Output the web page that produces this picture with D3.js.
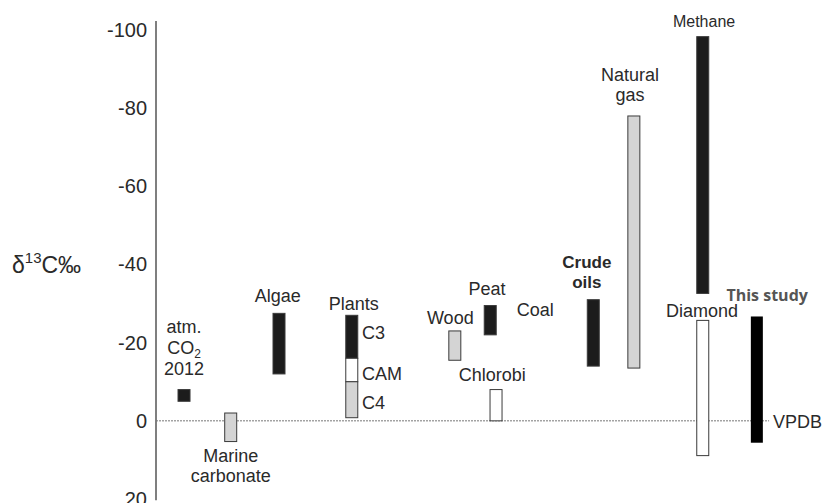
<!DOCTYPE html>
<html>
<head>
<meta charset="utf-8">
<script src="https://cdn.jsdelivr.net/npm/d3@7"></script>
<style>
  body { margin: 0; background: #fff; }
  svg text { font-family: 'Liberation Sans', Arial, Helvetica, sans-serif; fill: #2a2a2a; }
</style>
</head>
<body>
<div id='chart'></div>

<script>
  // ranges of d13C, per source (low = most negative end)
  var sources = ['atm. CO2 2012', 'Marine carbonate', 'Algae', 'Plants C3', 'Plants CAM', 'Plants C4',
                 'Wood', 'Peat', 'Chlorobi', 'Crude oils', 'Natural gas', 'Methane', 'Diamond', 'This study']
  var column  = [4.35, 11.6, 19.1, 30.4, 30.4, 30.4, 46.4, 51.9, 52.8, 67.9, 74.2, 84.9, 84.9, 93.3]
  var lowVal  = [-8, -2, -27.5, -27, -16, -10, -23, -29.5, -8, -31, -78, -98.3, -25.7, -26.7]
  var highVal = [-5, 5.3, -12, -16, -10, -0.8, -15.5, -22, 0, -14, -13.5, -32.6, 8.9, 5.6]
  var kind    = ['dark', 'gray', 'dark', 'dark', 'open', 'gray', 'gray', 'dark', 'open', 'dark', 'gray', 'dark', 'open', 'black']

  var yTicks = [-100, -80, -60, -40, -20, 0, 20]

  // text labels: lines, column, value of first baseline
  var labelLines = [['atm.', 'CO_2', '2012'], ['Marine', 'carbonate'], ['Algae'], ['Plants'], ['C3'], ['CAM'], ['C4'],
                    ['Wood'], ['Peat'], ['Coal'], ['Chlorobi'], ['Crude', 'oils'], ['Natural', 'gas'], ['Methane'],
                    ['Diamond'], ['This study'], ['VPDB']]
  var labelCol   = [4.35, 11.6, 18.9, 30.7, 32.0, 32.0, 32.0, 45.7, 51.4, 58.9, 52.2, 66.9, 73.6, 85.1, 84.8, 94.9, 95.8]
  var labelVal   = [-22.5, 10.5, -30.4, -28.4, -21.0, -10.5, -3.1, -24.8, -32.2, -26.9, -10.2, -39.1, -87.0, -100.8, -26.6, -30.7, 1.8]

  var fills = { dark: '#1c1c1c', gray: '#d4d4d4', open: '#ffffff', black: '#000000' }

  var width = 824, height = 503

  svg = d3.select('#chart')
          .append('svg')
          .attr('width', width)
          .attr('height', height)

  x = d3.scaleLinear()
        .domain([0, 100])
        .range([156, 800])

  y = d3.scaleLinear()
        .domain([20, -100])
        .range([499, 30])

  // axis
  svg.append('g')
     .attr('transform', 'translate(' + x(0) + ',0)')
     .call(d3.axisLeft(y).tickValues(yTicks).tickSize(0).tickPadding(9)
             .tickFormat(function(d) { return d }))
     .call(function(g) {
       g.select('.domain').remove()
       g.selectAll('text')
        .style('font-size', '20px')
        .style('font-family', "'Liberation Sans', Arial, sans-serif")
        .attr('fill', '#2a2a2a')
     })

  svg.append('line')
     .attr('x1', x(0)).attr('x2', x(0))
     .attr('y1', y(-102.3)).attr('y2', y(20.3))
     .attr('stroke', '#555')
     .attr('stroke-width', 1.5)

  // y label
  var yl = svg.append('text')
              .attr('x', 12)
              .attr('y', 273)
              .style('font-size', '23px')
  yl.append('tspan').text('\u03b4')
  yl.append('tspan').attr('dy', -10).style('font-size', '15px').text('13')
  yl.append('tspan').attr('dy', 10).text('C\u2030')

  // zero line
  svg.append('line')
     .attr('x1', x(0)).attr('x2', x(95.2))
     .attr('y1', y(0)).attr('y2', y(0))
     .attr('stroke', '#777')
     .attr('stroke-width', 1)
     .attr('stroke-dasharray', '2,1')

  // bars
  svg.selectAll('rect.range')
     .data(sources)
     .enter()
     .append('rect')
     .classed('range', true)
     .attr('x', function(d, i) { return x(column[i]) - 6 })
     .attr('width', 12)
     .attr('y', function(d, i) { return y(lowVal[i]) })
     .attr('height', function(d, i) { return y(highVal[i]) - y(lowVal[i]) })
     .attr('fill', function(d, i) { return fills[kind[i]] })
     .attr('stroke', function(d, i) { return kind[i] == 'black' ? 'none' : '#3a3a3a' })
     .attr('stroke-width', 1)

  // labels
  labelLines.forEach(function(lines, i) {
    var name = lines[0]
    var anchor = (name == 'C3' || name == 'CAM' || name == 'C4' || name == 'VPDB') ? 'start' : 'middle'
    var t = svg.append('text')
               .attr('text-anchor', anchor)
               .style('font-size', name == 'Methane' ? '16px' : '18px')
    if (name == 'Crude') t.style('font-weight', 'bold').style('font-size', '17px')
    if (name == 'This study') {
      t.style('font-family', "'Open Sans', sans-serif").style('font-weight', 'bold')
       .style('font-size', '16px').style('fill', '#555')
    }
    lines.forEach(function(line, j) {
      var tl = t.append('tspan')
                .attr('x', x(labelCol[i]))
                .attr('y', y(labelVal[i]) + j * (name == 'atm.' ? 21 : 20))
      if (line.indexOf('_') > -1) {
        var parts = line.split('_')
        tl.append('tspan').text(parts[0])
        tl.append('tspan').attr('dy', 4).style('font-size', '12px').text(parts[1])
      } else {
        tl.text(line)
      }
    })
  })
</script>
</body>
</html>
